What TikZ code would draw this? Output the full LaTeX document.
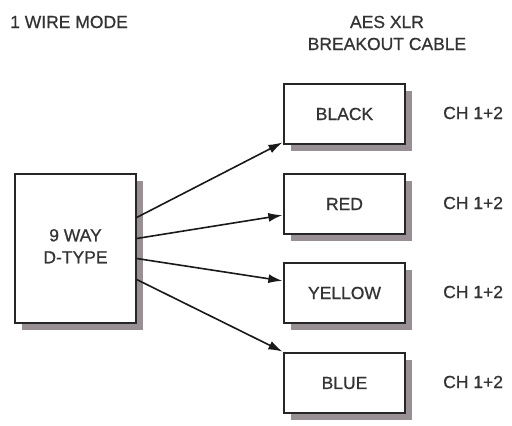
\documentclass[tikz,border=0pt]{standalone}
\usepackage{fontspec}
\setmainfont[FakeBold=0.7]{Liberation Sans}
\usetikzlibrary{arrows.meta,shadows}
\definecolor{shadowc}{HTML}{8E8489}
\definecolor{txt}{HTML}{333333}
\tikzset{
  box/.style={draw=black!85, line width=1.3pt, fill=white, minimum width=121pt, minimum height=60pt, inner sep=0pt,
    font=\fontsize{17.5}{19}\selectfont, text=txt,
    drop shadow={shadow xshift=7pt, shadow yshift=-7pt, fill=shadowc, opacity=0.9}},
  lbl/.style={font=\fontsize{17.5}{19}\selectfont, text=txt, inner sep=0pt},
  wire/.style={line width=1.6pt, black!90, -{Latex[length=14pt,width=9pt]}, shorten >=1pt},
}
\begin{document}
\begin{tikzpicture}[x=1pt,y=-1pt]
\useasboundingbox (0,0) rectangle (512,426);
\node[box, minimum height=149pt] (dt) at (75.5,248.5) {\begin{tabular}{@{}c@{}}9 WAY\\[3pt] D-TYPE\end{tabular}};
\node[box] (black) at (344.5,114) {BLACK};
\node[box] (red) at (344.5,204) {RED};
\node[box] (yellow) at (344.5,293) {YELLOW};
\node[box] (blue) at (344.5,383) {BLUE};
\node[lbl, anchor=west] (m) at (10,22) {1 WIRE MODE};
\node[lbl] (h1) at (387,22) {AES XLR};
\node[lbl] (h2) at (387,44) {BREAKOUT CABLE};
\foreach \n/\y in {c1/113,c2/203,c3/292,c4/382}{\node[lbl, anchor=west] (\n) at (443,\y) {CH 1+2};}
\coordinate (s1) at ([yshift=31pt]dt.east);
\coordinate (s2) at ([yshift=10pt]dt.east);
\coordinate (s3) at ([yshift=-10pt]dt.east);
\coordinate (s4) at ([yshift=-31pt]dt.east);
\draw[wire] (s1) -- ([yshift=-28pt]black.west);
\draw[wire] (s2) -- ([yshift=-11pt]red.west);
\draw[wire] (s3) -- ([yshift=12pt]yellow.west);
\draw[wire] (s4) -- ([yshift=31pt]blue.west);
\end{tikzpicture}
\end{document}
